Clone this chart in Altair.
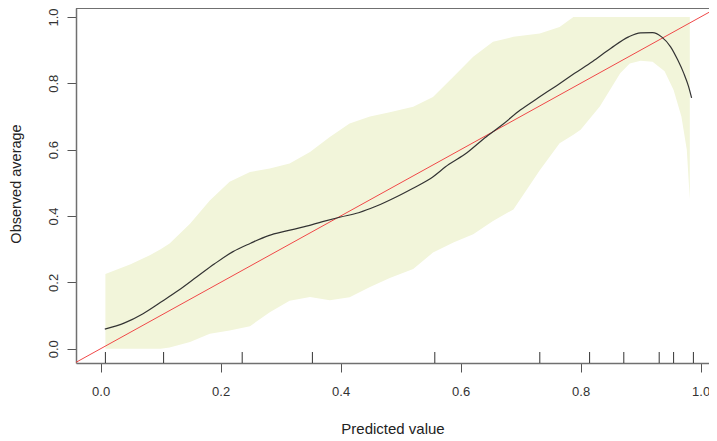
import altair as alt
import pandas as pd

# Smoothed calibration curve
curve_x = [0.007, 0.04, 0.07, 0.10, 0.13, 0.16, 0.19, 0.22, 0.25, 0.28, 0.31, 0.34, 0.37,
           0.40, 0.43, 0.46, 0.49, 0.52, 0.55, 0.58, 0.61, 0.64, 0.67, 0.70, 0.73, 0.76,
           0.79, 0.82, 0.85, 0.88, 0.90, 0.92, 0.935, 0.95, 0.962, 0.972, 0.98, 0.985]
curve_y = [0.059, 0.078, 0.105, 0.14, 0.176, 0.216, 0.256, 0.292, 0.318, 0.341, 0.355, 0.368, 0.383,
           0.397, 0.41, 0.43, 0.455, 0.483, 0.513, 0.555, 0.59, 0.635, 0.676, 0.72, 0.757, 0.793,
           0.83, 0.866, 0.905, 0.94, 0.952, 0.953, 0.94, 0.91, 0.87, 0.83, 0.79, 0.756]

# Confidence band
band_x = [0.008, 0.05, 0.082, 0.10, 0.115, 0.149, 0.182, 0.215, 0.249, 0.282, 0.315, 0.349,
          0.382, 0.415, 0.449, 0.482, 0.521, 0.554, 0.588, 0.621, 0.654, 0.688, 0.732, 0.765,
          0.788, 0.80, 0.832, 0.866, 0.882, 0.90, 0.92, 0.94, 0.955, 0.968, 0.977, 0.982]
band_hi = [0.225, 0.255, 0.282, 0.30, 0.317, 0.377, 0.447, 0.503, 0.533, 0.543, 0.558, 0.593,
           0.638, 0.679, 0.70, 0.713, 0.729, 0.759, 0.82, 0.88, 0.925, 0.94, 0.95, 0.97,
           1.0, 1.0, 1.0, 1.0, 1.0, 1.0, 1.0, 1.0, 1.0, 1.0, 1.0, 1.0]
band_lo = [0.0, 0.0, 0.0, 0.0, 0.004, 0.02, 0.045, 0.055, 0.068, 0.11, 0.145, 0.156,
           0.146, 0.155, 0.186, 0.213, 0.24, 0.29, 0.32, 0.345, 0.385, 0.42, 0.538, 0.619,
           0.645, 0.66, 0.73, 0.83, 0.86, 0.868, 0.865, 0.836, 0.78, 0.70, 0.60, 0.45]

# Rug of predicted values
rug_x = [0.008, 0.105, 0.236, 0.353, 0.557, 0.732, 0.815, 0.872, 0.931, 0.955, 0.988]

# Reference diagonal
diag = [-0.2, 1.2]

tick_vals = [0.0, 0.2, 0.4, 0.6, 0.8, 1.0]

W, H = 633, 355
FONT = "Liberation Sans"

xs = alt.Scale(domain=[-0.041, 1.014], nice=False, zero=False)
ys = alt.Scale(domain=[-0.043, 1.027], nice=False, zero=False)

xaxis = alt.Axis(values=tick_vals, format=".1f", grid=False, tickSize=9, tickColor="#555",
                 domainColor="#707070", domainWidth=1.5, labelPadding=13, labelFontSize=13,
                 labelColor="#333", labelFont=FONT, title="Predicted value",
                 titleFont=FONT, titleFontSize=15, titleFontWeight="normal", titleColor="#222",
                 titleBaseline="alphabetic", titleY=70, labelFlush=False)
yaxis = alt.Axis(values=tick_vals, format=".1f", grid=False, tickSize=9, tickColor="#555",
                 domainColor="#707070", domainWidth=1.5, labelPadding=14, labelFontSize=13,
                 labelColor="#333", labelFont=FONT, labelAngle=270, labelAlign="center",
                 labelBaseline="middle", title="Observed average", titleFont=FONT,
                 titleFontSize=14.5, titleFontWeight="normal", titleColor="#222", titleAngle=270,
                 titleBaseline="alphabetic", titleX=-56, titleY=175.5, labelFlush=False)

band_df = pd.DataFrame({"x": band_x, "lo": band_lo, "hi": band_hi})
curve_df = pd.DataFrame({"x": curve_x, "y": curve_y})
rug_df = pd.DataFrame({"x": rug_x})
diag_df = pd.DataFrame({"x": diag, "y": diag})

band = alt.Chart(band_df).mark_area(color="#f2f5da", opacity=1, clip=True).encode(
    x=alt.X("x:Q", scale=xs, axis=xaxis),
    y=alt.Y("lo:Q", scale=ys, axis=yaxis),
    y2="hi:Q",
)

diagonal = alt.Chart(diag_df).mark_line(color="#f04848", strokeWidth=1, clip=True).encode(
    x=alt.X("x:Q", scale=xs), y=alt.Y("y:Q", scale=ys)
)

curve = alt.Chart(curve_df).mark_line(color="#333", strokeWidth=1.2, interpolate="monotone").encode(
    x=alt.X("x:Q", scale=xs), y=alt.Y("y:Q", scale=ys)
)

rug = alt.Chart(rug_df).mark_rule(color="#333", strokeWidth=1).encode(
    x=alt.X("x:Q", scale=xs), y=alt.value(H - 11), y2=alt.value(H)
)

top = alt.Chart(rug_df).mark_rule(color="#707070", strokeWidth=1.5).encode(
    x=alt.value(0), x2=alt.value(W + 2), y=alt.value(0)
)

chart = alt.layer(band, diagonal, curve, rug, top).properties(
    width=W, height=H,
    autosize=alt.AutoSizeParams(type="none"),
    padding={"left": 68, "top": 0, "right": 0, "bottom": 72},
).configure_view(stroke=None)

chart.save("out.html", embed_options={"renderer": "svg", "actions": False})
